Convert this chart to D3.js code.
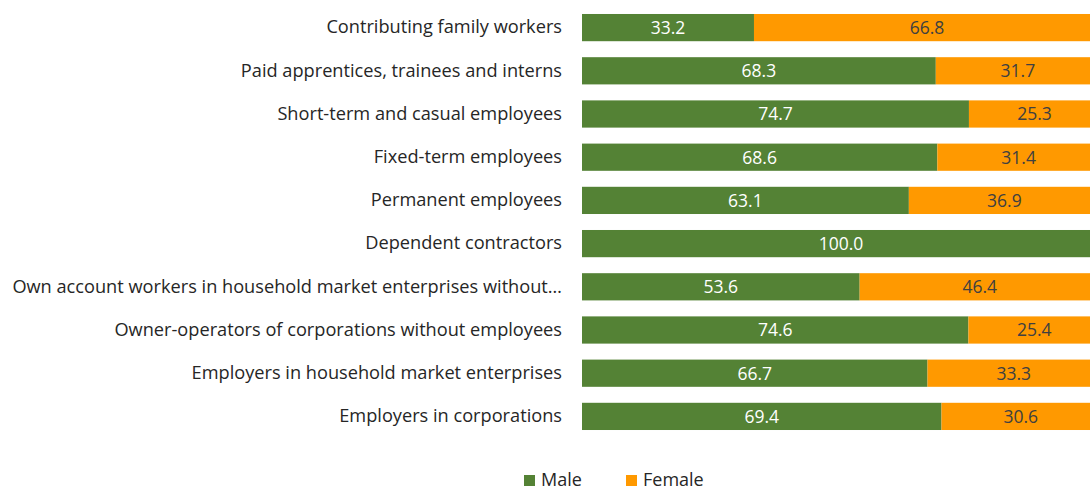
<!DOCTYPE html>
<html><head><meta charset="utf-8">
<script src="https://cdn.jsdelivr.net/npm/d3@7"></script>
<style>body{margin:0;background:#fff}svg{display:block}text{font-family:"Open Sans",sans-serif}</style>
</head><body><svg id="c" width="1090" height="492"></svg>
<script>
const categories = ["Contributing family workers","Paid apprentices, trainees and interns","Short-term and casual employees","Fixed-term employees","Permanent employees","Dependent contractors","Own account workers in household market enterprises without…","Owner-operators of corporations without employees","Employers in household market enterprises","Employers in corporations"];
const male = [33.2,68.3,74.7,68.6,63.1,100.0,53.6,74.6,66.7,69.4];
const female = [66.8,31.7,25.3,31.4,36.9,null,46.4,25.4,33.3,30.6];
const seriesNames = ["Male","Female"];
const colors = ["#548235","#FF9900"];

const svg = d3.select("#c");
const x = d3.scaleLinear().domain([0,100]).range([582,1100]);
const y = d3.scaleBand().domain(categories).range([6,438]).paddingInner(0.37).paddingOuter(0.185);
const bh = y.bandwidth();

const rows = categories.map((c,i)=>({c, m:male[i], f:female[i]||0, fl:female[i]}));
const g = svg.append("g");
rows.forEach(r=>{
  g.append("rect").attr("x",x(0)).attr("y",y(r.c)).attr("width",x(r.m)-x(0)).attr("height",bh).attr("fill",colors[0]);
  if(r.fl!=null) g.append("rect").attr("x",x(r.m)).attr("y",y(r.c)).attr("width",x(r.m+r.f)-x(r.m)).attr("height",bh).attr("fill",colors[1]);
  g.append("text").attr("x",(x(0)+x(r.m))/2).attr("y",y(r.c)+bh/2).attr("dy","0.36em").attr("text-anchor","middle").attr("fill","#fff").attr("font-size",17.5).text(r.m.toFixed(1));
  if(r.fl!=null) g.append("text").attr("x",(x(r.m)+x(r.m+r.f))/2).attr("y",y(r.c)+bh/2).attr("dy","0.36em").attr("text-anchor","middle").attr("fill","#404040").attr("font-size",17.5).text(r.fl.toFixed(1));
});
const ax = svg.append("g").attr("transform","translate(582,0)").call(d3.axisLeft(y).tickSize(0).tickPadding(20));
ax.select(".domain").remove();
ax.selectAll("text").attr("font-size",18.2).attr("fill","#262626").style("font-family","'Open Sans',sans-serif");

const leg = svg.append("g");
const lx = [524,626];
seriesNames.forEach((s,i)=>{
  leg.append("rect").attr("x",lx[i]).attr("y",475).attr("width",11).attr("height",11).attr("fill",colors[i]);
  leg.append("text").attr("x",lx[i]+17).attr("y",486).attr("font-size",18).attr("fill","#262626").text(s);
});
</script></body></html>
